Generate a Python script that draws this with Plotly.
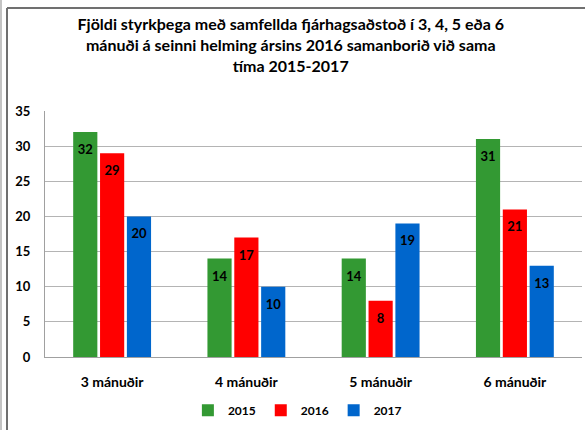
import plotly.graph_objects as go

categories = ["3 mánuðir", "4 mánuðir", "5 mánuðir", "6 mánuðir"]
years = ["2015", "2016", "2017"]
values_2015 = [32, 14, 14, 31]
values_2016 = [29, 17, 8, 21]
values_2017 = [20, 10, 19, 13]
colors = ["#339933", "#ff0000", "#0066cc"]
y_ticks = [0, 5, 10, 15, 20, 25, 30, 35]

title_text = ("Fjöldi styrkþega með samfellda fjárhagsaðstoð í 3, 4, 5 eða 6<br>"
              "mánuði á seinni helming ársins 2016 samanborið við sama<br>"
              "tíma 2015-2017")

FONT = "Lato"
fig = go.Figure()
series = [values_2015, values_2016, values_2017]
for name, vals, col in zip(years, series, colors):
    fig.add_trace(go.Bar(
        x=categories, y=vals, name=name, marker_color=col,
        marker_line_width=0, hoverinfo="skip",
    ))
# data labels, grouped like the bars
for name, vals in zip(years, series):
    fig.add_trace(go.Scatter(
        x=categories, y=vals, mode="markers+text", showlegend=False,
        text=[str(v) for v in vals], textposition="bottom center",
        marker=dict(size=18, color="rgba(0,0,0,0)"),
        textfont=dict(family=FONT, size=13, color="black", weight="bold"),
        hoverinfo="skip", cliponaxis=False,
    ))

L, R, T, B = 45, 3, 111, 73
W, H = 585, 430
pw, ph = W - L - R, H - T - B

def px_x(p):
    return (p - L) / pw

def px_y(p):
    return (H - B - p) / ph

fig.update_layout(
    width=W, height=H,
    margin=dict(l=L, r=R, t=T, b=B, autoexpand=False),
    paper_bgcolor="white", plot_bgcolor="white",
    barmode="group", bargap=0.4, bargroupgap=0.1,
    scattermode="group", scattergap=0.4,
    title=dict(text=title_text, x=0.497, xanchor="center", y=0.93, yanchor="top",
               font=dict(family=FONT, size=16, color="black", weight="bold")),
    font=dict(family=FONT, color="black"),
    xaxis=dict(showgrid=False, showline=True, linecolor="#a0a0a0", linewidth=1,
               ticks="", automargin=False, ticklabelstandoff=12,
               tickfont=dict(family=FONT, size=14, color="black", weight="bold")),
    yaxis=dict(range=[0, 35], tickvals=y_ticks, showgrid=True, gridcolor="#b4b4b4",
               gridwidth=1, showline=True, linecolor="#a0a0a0", linewidth=1,
               zeroline=False, ticks="", ticklabelstandoff=11, automargin=False,
               tickfont=dict(family=FONT, size=13, color="black", weight="bold")),
    legend=dict(orientation="h", x=0.47, xanchor="center", y=-0.158, yanchor="top",
                font=dict(family=FONT, size=12, color="black", weight="bold"),
                itemwidth=30, traceorder="normal"),
    showlegend=True,
    shapes=[
        dict(type="line", xref="paper", yref="paper", x0=px_x(1), x1=px_x(1),
             y0=px_y(0), y1=px_y(430), line=dict(color="#b0b0b0", width=1.5)),
        dict(type="line", xref="paper", yref="paper", x0=px_x(7), x1=px_x(7),
             y0=px_y(8), y1=px_y(430), line=dict(color="#707070", width=2)),
        dict(type="line", xref="paper", yref="paper", x0=px_x(7), x1=px_x(585),
             y0=px_y(8), y1=px_y(8), line=dict(color="#707070", width=2)),
    ],
)

fig.write_html("out.html", config={"displayModeBar": False},
               post_script="document.body.style.margin='0';")
